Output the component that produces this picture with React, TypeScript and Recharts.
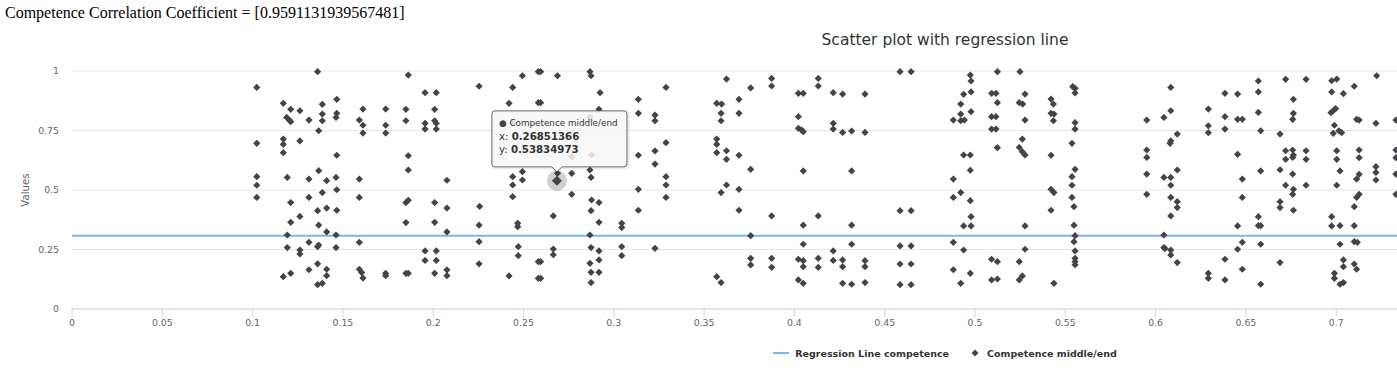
import React from 'react';
import { ScatterChart, Scatter, XAxis, YAxis, CartesianGrid, Legend } from 'recharts';

type Pt = [number, number];

const correlation = '0.9591131939567481';

// scatter values, grouped by x band
const pts010: Pt[] = [
  [0.1023, 0.931], [0.136, 0.997], [0.117, 0.864], [0.1211, 0.839], [0.1262, 0.833], [0.1386, 0.86], [0.1466, 0.881],
  [0.1189, 0.805], [0.1203, 0.794], [0.1211, 0.787], [0.1312, 0.794], [0.1386, 0.819], [0.1386, 0.791], [0.1466, 0.822],
  [0.1462, 0.805], [0.1611, 0.84], [0.1591, 0.794], [0.1611, 0.772], [0.1611, 0.739], [0.1366, 0.749],
  [0.1023, 0.696], [0.117, 0.714], [0.117, 0.692], [0.117, 0.657], [0.1262, 0.706], [0.1466, 0.646],
  [0.1023, 0.556], [0.1023, 0.52], [0.1023, 0.469],
  [0.1192, 0.553], [0.1312, 0.546], [0.1366, 0.581], [0.141, 0.539], [0.1462, 0.553], [0.1591, 0.546],
  [0.1386, 0.489], [0.1466, 0.501], [0.1312, 0.469], [0.1591, 0.469], [0.1211, 0.447],
  [0.136, 0.413], [0.141, 0.424], [0.1466, 0.415], [0.1262, 0.389], [0.1211, 0.364], [0.1366, 0.352], [0.141, 0.324],
  [0.1192, 0.311], [0.1462, 0.311], [0.1312, 0.28], [0.1366, 0.269], [0.136, 0.262], [0.1591, 0.28],
  [0.1192, 0.258], [0.1262, 0.248], [0.1262, 0.231], [0.1462, 0.258],
  [0.136, 0.19], [0.1312, 0.165], [0.141, 0.167], [0.141, 0.14], [0.1211, 0.15], [0.117, 0.136],
  [0.136, 0.102], [0.1386, 0.108], [0.1591, 0.167], [0.1604, 0.153], [0.1611, 0.13],
];

const pts017: Pt[] = [
  [0.1862, 0.983], [0.2254, 0.936], [0.1955, 0.909], [0.2017, 0.909],
  [0.1737, 0.84], [0.1849, 0.839], [0.2008, 0.839],
  [0.1849, 0.791], [0.1955, 0.78], [0.2008, 0.791], [0.2017, 0.78], [0.1737, 0.772], [0.1737, 0.739], [0.1955, 0.756], [0.2017, 0.756],
  [0.1862, 0.644], [0.1862, 0.584], [0.2076, 0.541],
  [0.1849, 0.447], [0.1862, 0.457], [0.2008, 0.447], [0.2076, 0.424], [0.2257, 0.431],
  [0.1849, 0.363], [0.2008, 0.364], [0.2254, 0.352], [0.2076, 0.324], [0.2254, 0.283],
  [0.1955, 0.244], [0.2017, 0.244], [0.1955, 0.204], [0.2017, 0.204], [0.2254, 0.19],
  [0.1737, 0.15], [0.1737, 0.14], [0.1849, 0.15], [0.1862, 0.15], [0.2008, 0.15], [0.2076, 0.164], [0.2076, 0.14],
];

const pts024: Pt[] = [
  [0.2494, 0.98], [0.2582, 0.997], [0.2595, 0.997], [0.2688, 0.98], [0.2868, 0.997], [0.2874, 0.98],
  [0.244, 0.931], [0.2924, 0.909], [0.242, 0.864], [0.2582, 0.867], [0.2595, 0.867],
  [0.2918, 0.839], [0.2868, 0.806], [0.244, 0.78], [0.2582, 0.72], [0.2767, 0.64], [0.2877, 0.647],
  [0.244, 0.556], [0.244, 0.521], [0.2494, 0.577], [0.2494, 0.542],
  [0.2688, 0.57], [0.26851366, 0.53834973], [0.2767, 0.57], [0.2868, 0.584], [0.2874, 0.553],
  [0.244, 0.472], [0.2767, 0.482], [0.2877, 0.458], [0.2918, 0.447], [0.2874, 0.413],
  [0.2665, 0.391], [0.2918, 0.364], [0.2468, 0.36], [0.2468, 0.346], [0.2868, 0.311],
  [0.2471, 0.262], [0.2471, 0.224], [0.2665, 0.252], [0.2665, 0.228],
  [0.2874, 0.258], [0.2918, 0.244], [0.2918, 0.206], [0.2868, 0.192], [0.2582, 0.199], [0.2595, 0.199],
  [0.242, 0.139], [0.2582, 0.129], [0.2595, 0.129], [0.2874, 0.154], [0.2918, 0.154], [0.2874, 0.111],
];

const pts030: Pt[] = [
  [0.3044, 0.36], [0.3044, 0.342], [0.3044, 0.262], [0.3044, 0.224],
  [0.3136, 0.881], [0.3136, 0.822], [0.3289, 0.931], [0.3228, 0.815], [0.3228, 0.791],
  [0.3289, 0.699], [0.3228, 0.664], [0.3228, 0.609], [0.3136, 0.646],
  [0.3289, 0.556], [0.3289, 0.521], [0.3289, 0.469], [0.3136, 0.503], [0.3136, 0.415], [0.3228, 0.255],
  [0.3624, 0.966], [0.357, 0.864], [0.3597, 0.861], [0.3594, 0.822], [0.3594, 0.791], [0.3693, 0.881], [0.3693, 0.822],
  [0.357, 0.714], [0.357, 0.692], [0.357, 0.657], [0.3624, 0.665], [0.3624, 0.629], [0.3693, 0.646],
  [0.3624, 0.521], [0.3594, 0.489], [0.3693, 0.503], [0.3693, 0.415], [0.357, 0.136], [0.3594, 0.111],
];

const pts037: Pt[] = [
  [0.3758, 0.929], [0.3874, 0.969], [0.3874, 0.937], [0.4022, 0.906], [0.4049, 0.906], [0.4132, 0.969], [0.4132, 0.937],
  [0.4215, 0.909], [0.4267, 0.903], [0.4391, 0.903],
  [0.4022, 0.808], [0.4022, 0.759], [0.4049, 0.745], [0.404, 0.752], [0.4215, 0.78], [0.4215, 0.756], [0.4267, 0.742],
  [0.4317, 0.748], [0.4391, 0.742],
  [0.3758, 0.587], [0.4049, 0.58], [0.4317, 0.58],
  [0.3874, 0.391], [0.4132, 0.391], [0.4049, 0.352], [0.4317, 0.352], [0.3758, 0.308],
  [0.4049, 0.272], [0.4317, 0.272], [0.4215, 0.244],
  [0.3758, 0.213], [0.3758, 0.185], [0.3874, 0.213], [0.3874, 0.175], [0.4022, 0.209], [0.4049, 0.203], [0.4049, 0.178],
  [0.4132, 0.213], [0.4132, 0.175], [0.4215, 0.204], [0.4267, 0.206], [0.4267, 0.178], [0.4391, 0.203], [0.4391, 0.178],
  [0.4022, 0.122], [0.4049, 0.108], [0.4267, 0.108], [0.4317, 0.104], [0.4391, 0.111],
];

const pts045: Pt[] = [
  [0.4585, 0.997], [0.4646, 0.997],
  [0.4974, 0.983], [0.4978, 0.958], [0.4937, 0.902], [0.4978, 0.912], [0.4921, 0.861], [0.4921, 0.819], [0.4978, 0.829],
  [0.488, 0.794], [0.4921, 0.791], [0.4941, 0.794],
  [0.4937, 0.647], [0.4974, 0.647], [0.4974, 0.583], [0.488, 0.546],
  [0.488, 0.469], [0.4921, 0.489], [0.4974, 0.455], [0.4585, 0.413], [0.4646, 0.413],
  [0.4978, 0.388], [0.4937, 0.349], [0.4978, 0.349], [0.488, 0.28], [0.4937, 0.248],
  [0.4585, 0.265], [0.4646, 0.265], [0.4585, 0.189], [0.4646, 0.189],
  [0.488, 0.165], [0.4974, 0.15], [0.4585, 0.102], [0.4646, 0.102], [0.4921, 0.108],
];

const pts050: Pt[] = [
  [0.5124, 0.997], [0.5249, 0.997],
  [0.5092, 0.906], [0.5116, 0.906], [0.5124, 0.867], [0.5092, 0.808], [0.5116, 0.808], [0.5092, 0.756], [0.5116, 0.756], [0.5124, 0.678],
  [0.5277, 0.903], [0.5245, 0.867], [0.5264, 0.861], [0.5277, 0.794],
  [0.5262, 0.714], [0.5245, 0.679], [0.5262, 0.661], [0.5277, 0.647],
  [0.5421, 0.882], [0.5434, 0.861], [0.5421, 0.822], [0.5437, 0.819], [0.5434, 0.791], [0.5421, 0.646],
  [0.5541, 0.934], [0.5554, 0.927], [0.5554, 0.908], [0.5554, 0.783], [0.5554, 0.756], [0.5537, 0.696],
  [0.5554, 0.587], [0.5537, 0.556], [0.5537, 0.52], [0.5421, 0.503], [0.5437, 0.489], [0.5537, 0.469], [0.5548, 0.43], [0.5421, 0.415],
  [0.5277, 0.349], [0.5548, 0.352], [0.5554, 0.308], [0.5548, 0.283], [0.5554, 0.244], [0.5554, 0.213], [0.5554, 0.199], [0.5554, 0.186],
  [0.5277, 0.251], [0.5092, 0.209], [0.5124, 0.199], [0.5245, 0.199],
  [0.5092, 0.122], [0.5124, 0.126], [0.5245, 0.122], [0.5262, 0.139], [0.5437, 0.108],
];

const pts059: Pt[] = [
  [0.6084, 0.931], [0.5951, 0.794], [0.6046, 0.805], [0.6084, 0.833],
  [0.6384, 0.906], [0.6454, 0.903], [0.6292, 0.84], [0.6384, 0.808], [0.6454, 0.797], [0.648, 0.797],
  [0.6292, 0.77], [0.6292, 0.741], [0.6384, 0.756], [0.612, 0.735], [0.6084, 0.706], [0.608, 0.696],
  [0.5951, 0.668], [0.5951, 0.637], [0.5951, 0.567], [0.5951, 0.482], [0.6454, 0.65],
  [0.6046, 0.553], [0.6084, 0.553], [0.612, 0.584], [0.6084, 0.52], [0.6084, 0.469], [0.612, 0.451], [0.612, 0.426], [0.6084, 0.391],
  [0.648, 0.546], [0.648, 0.469], [0.6454, 0.349],
  [0.6046, 0.311], [0.6046, 0.258], [0.6052, 0.254], [0.6084, 0.248], [0.6084, 0.227], [0.612, 0.195],
  [0.648, 0.28], [0.6454, 0.251], [0.648, 0.167], [0.6384, 0.209],
  [0.6292, 0.15], [0.6292, 0.129], [0.6384, 0.122],
];

const pts065: Pt[] = [
  [0.6569, 0.958], [0.6569, 0.912], [0.6569, 0.826], [0.6582, 0.749],
  [0.672, 0.965], [0.6833, 0.965], [0.6763, 0.881], [0.6763, 0.822], [0.6759, 0.797], [0.6689, 0.735],
  [0.672, 0.665], [0.672, 0.629], [0.6759, 0.668], [0.6759, 0.637], [0.6763, 0.647], [0.6833, 0.665], [0.6833, 0.629],
  [0.6582, 0.58], [0.6689, 0.585], [0.6759, 0.567], [0.672, 0.52], [0.6833, 0.52],
  [0.6763, 0.503], [0.6759, 0.482], [0.6689, 0.451], [0.6689, 0.426], [0.6763, 0.415],
  [0.6569, 0.388], [0.6569, 0.35], [0.6582, 0.35], [0.6582, 0.272], [0.6689, 0.195], [0.6582, 0.104],
  [0.6975, 0.959], [0.7003, 0.966], [0.6975, 0.912], [0.704, 0.905], [0.71, 0.936], [0.7224, 0.98],
  [0.6971, 0.825], [0.6984, 0.833], [0.6997, 0.842],
  [0.699, 0.772], [0.6984, 0.738], [0.7015, 0.749], [0.703, 0.741],
  [0.7113, 0.797], [0.7127, 0.794], [0.722, 0.78], [0.7331, 0.794],
  [0.7003, 0.665], [0.7003, 0.629], [0.7127, 0.668], [0.7127, 0.636], [0.7021, 0.58], [0.7003, 0.52],
  [0.722, 0.598], [0.722, 0.574], [0.722, 0.542], [0.7127, 0.566], [0.7113, 0.546],
  [0.7331, 0.668], [0.7331, 0.636], [0.7331, 0.567], [0.7331, 0.482],
  [0.7113, 0.469], [0.7127, 0.482], [0.71, 0.43],
  [0.6975, 0.388], [0.6975, 0.349], [0.7021, 0.35], [0.71, 0.35],
  [0.7021, 0.272], [0.71, 0.283], [0.7117, 0.28],
  [0.704, 0.206], [0.704, 0.178], [0.71, 0.189], [0.7113, 0.167],
  [0.699, 0.15], [0.699, 0.129], [0.7021, 0.104], [0.704, 0.111],
];

const regressionY = 0.3078;
const regressionX: [number, number] = [0, 1];
const hoverPoint: Pt = [0.26851366, 0.53834973];

// only the ticks that fall inside the visible part of the picture
const xTicks = [0, 0.05, 0.1, 0.15, 0.2, 0.25, 0.3, 0.35, 0.4, 0.45, 0.5, 0.55, 0.6, 0.65, 0.7];
const yTicks = [0, 0.25, 0.5, 0.75, 1];

const FONT = '"DejaVu Sans", Verdana, sans-serif';
const SERIES = '#434348';

const scatterData = [...pts010, ...pts017, ...pts024, ...pts030, ...pts037, ...pts045, ...pts050, ...pts059, ...pts065].map(
  ([x, y]) => ({ x, y })
);
const regressionData = regressionX.map((x) => ({ x, y: regressionY }));
const hoverData = [{ x: hoverPoint[0], y: hoverPoint[1] }];

const diamondPath = (cx: number, cy: number, r: number) =>
  `M${cx},${cy - r}L${cx + r},${cy}L${cx},${cy + r}L${cx - r},${cy}Z`;

const Diamond = (props: any) => <path d={diamondPath(props.cx, props.cy, 3.6)} fill={SERIES} />;

const HoverMarker = (props: any) => {
  const { cx, cy } = props;
  const w = 135;
  const h = 56;
  const left = cx - 65;
  const top = cy - 70;
  const bottom = top + h;
  const right = left + w;
  const box = `M${left + 3},${top}H${right - 3}Q${right},${top} ${right},${top + 3}V${bottom - 3}Q${right},${bottom} ${right - 3},${bottom}H${cx + 5}L${cx},${bottom + 5}L${cx - 5},${bottom}H${left + 3}Q${left},${bottom} ${left},${bottom - 3}V${top + 3}Q${left},${top} ${left + 3},${top}Z`;
  const tx = left + 7;
  return (
    <g>
      <circle cx={cx} cy={cy} r={10} fill={SERIES} fillOpacity={0.25} />
      <path d={diamondPath(cx, cy, 5)} fill={SERIES} />
      <path d={box} transform="translate(1,1)" fill="none" stroke="#000" strokeOpacity={0.08} strokeWidth={3} />
      <path d={box} fill="rgba(247,247,247,0.85)" stroke={SERIES} strokeOpacity={0.75} strokeWidth={1} />
      <text x={tx} y={top + 12} dominantBaseline="central" fontFamily={FONT} fontSize={8.8} fill="#333">
        <tspan fill={SERIES}>●</tspan> Competence middle/end
      </text>
      <text x={tx} y={top + 25.5} dominantBaseline="central" fontFamily={FONT} fontSize={10.2} fill="#333">
        x: <tspan fontWeight="bold">{hoverPoint[0]}</tspan>
      </text>
      <text x={tx} y={top + 38.5} dominantBaseline="central" fontFamily={FONT} fontSize={10.2} fill="#333">
        y: <tspan fontWeight="bold">{hoverPoint[1]}</tspan>
      </text>
    </g>
  );
};

const LegendContent = () => (
  <div
    style={{
      display: 'flex',
      justifyContent: 'center',
      alignItems: 'center',
      height: 28,
      paddingLeft: 12,
      fontFamily: FONT,
      fontSize: 9.5,
      fontWeight: 'bold',
      color: '#333',
      whiteSpace: 'nowrap',
    }}
  >
    <svg width={16} height={12}>
      <line x1={0} x2={16} y1={6} y2={6} stroke="#7cb5ec" strokeWidth={2} />
    </svg>
    <span style={{ marginLeft: 6 }}>Regression Line competence</span>
    <svg width={16} height={12} style={{ marginLeft: 18 }}>
      <path d={diamondPath(8, 6, 3.5)} fill={SERIES} />
    </svg>
    <span style={{ marginLeft: 4 }}>Competence middle/end</span>
  </div>
);

const ValuesLabel = (props: any) => {
  const vb = props.viewBox;
  const x = vb.x + 25;
  const y = vb.y + vb.height / 2;
  return (
    <text x={x} y={y} transform={`rotate(-90 ${x} ${y})`} textAnchor="middle" dominantBaseline="central" fontFamily={FONT} fontSize={10.2} fill="#666">
      Values
    </text>
  );
};

const fmt = (v: number) => String(Number(v.toFixed(2)));

export default function App() {
  return (
    <div style={{ position: 'relative', width: 1397, height: 387, overflow: 'hidden', background: '#fff' }}>
      <style>{'html,body{margin:0;padding:0;overflow:hidden;background:#fff}'}</style>
      <div
        style={{
          position: 'absolute',
          left: 5,
          top: 4,
          fontFamily: '"Liberation Serif", "Times New Roman", serif',
          fontSize: 16,
          color: '#000',
          whiteSpace: 'nowrap',
          zIndex: 2,
        }}
      >
        Competence Correlation Coefficient = [{correlation}]
      </div>
      <div
        style={{
          position: 'absolute',
          left: 0,
          top: 31,
          width: 1890,
          textAlign: 'center',
          fontFamily: FONT,
          fontSize: 15.5,
          lineHeight: '18px',
          color: '#333',
          zIndex: 2,
        }}
      >
        Scatter plot with regression line
      </div>
      <div style={{ position: 'absolute', left: 0, top: 0 }}>
        <ScatterChart width={1890} height={387} margin={{ top: 71, right: 12, bottom: 20, left: 0 }}>
          <CartesianGrid horizontal vertical={false} stroke="#e6e6e6" />
          <XAxis
            type="number"
            dataKey="x"
            domain={[0, 1]}
            ticks={xTicks}
            interval={0}
            tickFormatter={fmt}
            stroke="#ccd6eb"
            tickSize={8}
            tickMargin={2}
            height={30}
            tick={{ fill: '#666', fontSize: 9.35, fontFamily: FONT }}
          />
          <YAxis
            type="number"
            dataKey="y"
            domain={[0, 1]}
            ticks={yTicks}
            interval={0}
            tickFormatter={fmt}
            width={72}
            axisLine={false}
            tickLine={false}
            tickSize={0}
            tickMargin={13}
            tick={{ fill: '#666', fontSize: 9.35, fontFamily: FONT }}
            label={{ content: ValuesLabel }}
          />
          <Legend verticalAlign="bottom" height={28} content={LegendContent} />
          <Scatter
            name="Regression Line competence"
            data={regressionData}
            line={{ stroke: '#7cb5ec', strokeWidth: 2 }}
            shape={() => <g />}
            isAnimationActive={false}
          />
          <Scatter name="Competence middle/end" data={scatterData} shape={Diamond} isAnimationActive={false} />
          <Scatter name="hover" data={hoverData} shape={HoverMarker} legendType="none" isAnimationActive={false} />
        </ScatterChart>
      </div>
    </div>
  );
}
